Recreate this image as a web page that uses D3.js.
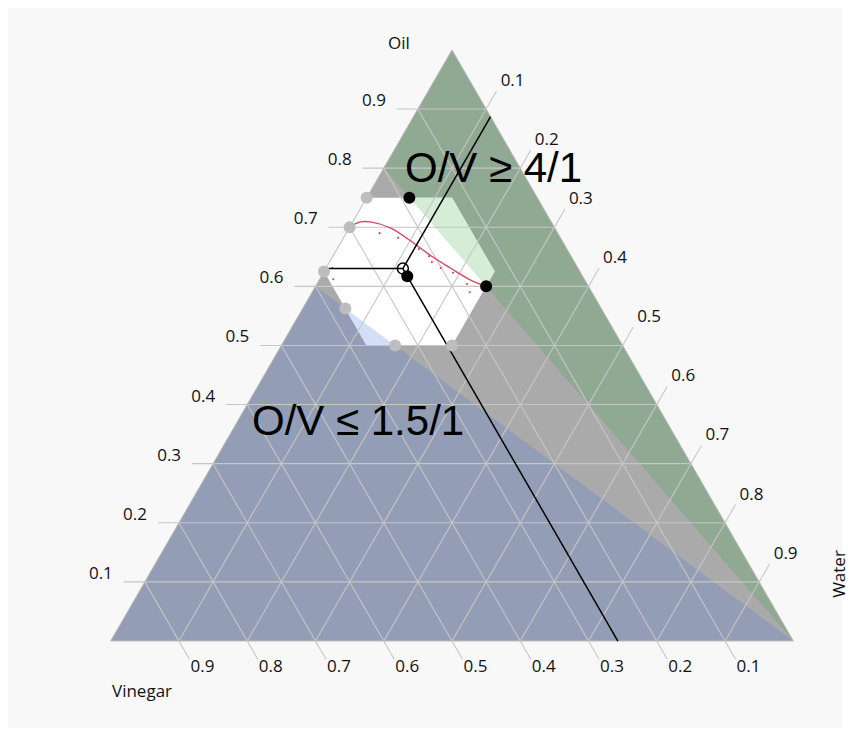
<!DOCTYPE html>
<html>
<head>
<meta charset="utf-8">
<script src="https://cdn.jsdelivr.net/npm/d3@7"></script>
<style>
  html, body { margin: 0; padding: 0; background: #ffffff; }
  svg { display: block; }
  text { font-family: "Open Sans", "Noto Sans", sans-serif; fill: #111; }
  text.big { font-family: "Liberation Sans", Arial, sans-serif; fill: #000; }
</style>
</head>
<body>
<svg id="chart" width="850" height="736"></svg>
<script>
// ---- data (compositions as [oil, water, vinegar]) ----
const ticks = [0.1, 0.2, 0.3, 0.4, 0.5, 0.6, 0.7, 0.8, 0.9];
const tickLabels = ["0.1", "0.2", "0.3", "0.4", "0.5", "0.6", "0.7", "0.8", "0.9"];
const axisTitles = ["Oil", "Water", "Vinegar"];

// oil / vinegar ratio limits
const ratioHigh = 4;     // O/V >= 4/1
const ratioLow = 1.5;    // O/V <= 1.5/1
const ratioTexts = ["O/V \u2265 4/1", "O/V \u2264 1.5/1"];

// component bounds of the mixing region
const oilRange = [0.5, 0.75];
const waterRange = [0, 0.25];
const vinegarRange = [0.125, 0.375];

// marked compositions
const grayPoints = [
  [0.75, 0.0, 0.25],
  [0.70, 0.0, 0.30],
  [0.625, 0.0, 0.375],
  [0.5625, 0.0625, 0.375],
  [0.50, 0.1667, 0.3333],
  [0.50, 0.25, 0.25]
];
const blackPoints = [
  [0.75, 0.0625, 0.1875],
  [0.60, 0.25, 0.15],
  [0.617, 0.126, 0.257]
];
const openPoint = [0.63, 0.113, 0.257];

// fitted curve and scattered observations
const curvePoints = [
  [0.700, 0.000], [0.709, 0.011], [0.709, 0.026], [0.699, 0.060],
  [0.678, 0.099], [0.653, 0.141], [0.631, 0.182], [0.611, 0.221], [0.600, 0.250]
];
const scatterPoints = [
  [0.631, 0.009], [0.612, 0.020], [0.690, 0.049], [0.682, 0.080],
  [0.663, 0.120], [0.651, 0.141], [0.641, 0.150], [0.631, 0.168],
  [0.623, 0.190], [0.604, 0.220], [0.590, 0.231]
];

// ---- layout ----
const svg = d3.select("#chart");
svg.append("rect").attr("x", 8).attr("y", 8).attr("width", 834).attr("height", 720)
  .attr("fill", "#f8f8f8");

const xs = d3.scaleLinear().domain([0, 1]).range([110.7, 793.3]);
const ys = d3.scaleLinear().domain([0, 1]).range([641, 49.9]);
// composition -> screen point
function P(o, w) { return [xs(w + o / 2), ys(o)]; }
function PT(t) { return P(t[0], t[1]); }
const poly = pts => "M" + pts.map(p => p.join(",")).join("L") + "Z";

const tri = [P(1, 0), P(0, 1), P(0, 0)];

// ---- regions ----
svg.append("path").attr("d", poly(tri)).attr("fill", "#aaaaaa");

// O/V >= ratioHigh : bounded by line from water corner to left edge
const vHigh = 1 / (1 + ratioHigh), oHigh = 1 - vHigh;
const greenPoly = [P(1, 0), P(0, 1), P(oHigh, 0)];
const vLow = 1 / (1 + ratioLow), oLow = 1 - vLow;
const bluePoly = [P(0, 0), P(0, 1), P(oLow, 0)];

svg.append("path").attr("d", poly(greenPoly)).attr("fill", "#8fa993");
svg.append("path").attr("d", poly(bluePoly)).attr("fill", "#939db5");

// mixing region (hexagon from component bounds)
const hex = [
  [oilRange[1], waterRange[0]],
  [oilRange[1], 1 - oilRange[1] - vinegarRange[0]],
  [1 - waterRange[1] - vinegarRange[0], waterRange[1]],
  [oilRange[0], waterRange[1]],
  [oilRange[0], 1 - oilRange[0] - vinegarRange[1]],
  [1 - waterRange[0] - vinegarRange[1], waterRange[0]]
].map(d => P(d[0], d[1]));

svg.append("clipPath").attr("id", "hexclip")
  .append("path").attr("d", poly(hex));
svg.append("path").attr("d", poly(hex)).attr("fill", "#ffffff");
const inner = svg.append("g").attr("clip-path", "url(#hexclip)");
inner.append("path").attr("d", poly(greenPoly)).attr("fill", "#d5ecd6");
inner.append("path").attr("d", poly(bluePoly)).attr("fill", "#d3dff7");

// ---- grid and ticks ----
const grid = svg.append("g").attr("stroke", "#c6c6c6").attr("stroke-width", 1.1).attr("fill", "none");
const TL = 21;
const up = [0.5, -Math.sqrt(3) / 2], down = [0.5, Math.sqrt(3) / 2];
const labels = svg.append("g").attr("font-size", 17);

ticks.forEach((t, i) => {
  // constant oil (horizontal)
  const a = P(t, 0), b = P(t, 1 - t);
  grid.append("line").attr("x1", a[0] - TL).attr("y1", a[1]).attr("x2", b[0]).attr("y2", b[1]);
  labels.append("text").attr("x", a[0] - TL - 11).attr("y", a[1] - 3)
    .attr("text-anchor", "end").text(tickLabels[i]);

  // constant water
  const c = P(0, t), d = P(1 - t, t);
  const de = [d[0] + TL * up[0], d[1] + TL * up[1]];
  grid.append("line").attr("x1", c[0]).attr("y1", c[1]).attr("x2", de[0]).attr("y2", de[1]);
  labels.append("text").attr("x", de[0] + 4).attr("y", de[1] - 5).text(tickLabels[i]);

  // constant vinegar
  const e = P(1 - t, 0), f = P(0, 1 - t);
  const fe = [f[0] + TL * down[0], f[1] + TL * down[1]];
  grid.append("line").attr("x1", e[0]).attr("y1", e[1]).attr("x2", fe[0]).attr("y2", fe[1]);
  labels.append("text").attr("x", fe[0] + 1).attr("y", fe[1] + 13).text(tickLabels[i]);
});

svg.append("path").attr("d", poly(tri)).attr("fill", "none")
  .attr("stroke", "#bbbbbb").attr("stroke-width", 1);

// ---- axis titles ----
svg.append("text").attr("x", 388).attr("y", 49).attr("font-size", 17).text(axisTitles[0]);
svg.append("text").attr("transform", "translate(845,574) rotate(-90)")
  .attr("text-anchor", "middle").attr("font-size", 17).text(axisTitles[1]);
svg.append("text").attr("x", 112).attr("y", 697).attr("font-size", 17).text(axisTitles[2]);

// ---- fitted curve and observations ----
svg.append("path")
  .attr("d", d3.line().x(d => P(d[0], d[1])[0]).y(d => P(d[0], d[1])[1])
    .curve(d3.curveCatmullRom)(curvePoints))
  .attr("fill", "none").attr("stroke", "#e0425c").attr("stroke-width", 1.4);
svg.append("g").selectAll("circle").data(scatterPoints).join("circle")
  .attr("cx", d => P(d[0], d[1])[0]).attr("cy", d => P(d[0], d[1])[1])
  .attr("r", 1.1).attr("fill", "#e0425c");

// ---- read-off lines from the marked composition ----
const [po, pw, pv] = openPoint;
const lines = svg.append("g").attr("stroke", "#000").attr("stroke-width", 1.5).attr("fill", "none");
const pc = P(po, pw);
[P(po, 0), P(1 - pw, pw), P(0, 1 - pv)].forEach(q => {
  lines.append("line").attr("x1", pc[0]).attr("y1", pc[1]).attr("x2", q[0]).attr("y2", q[1]);
});

// ---- points ----
svg.append("g").selectAll("circle").data(grayPoints).join("circle")
  .attr("cx", d => PT(d)[0]).attr("cy", d => PT(d)[1]).attr("r", 6).attr("fill", "#bdbdbd");
svg.append("circle").attr("cx", pc[0]).attr("cy", pc[1]).attr("r", 5.5)
  .attr("fill", "none").attr("stroke", "#000").attr("stroke-width", 1.5);
svg.append("g").selectAll("circle").data(blackPoints).join("circle")
  .attr("cx", d => PT(d)[0]).attr("cy", d => PT(d)[1]).attr("r", 6).attr("fill", "#000");

// ---- region labels ----
const big = svg.append("g").attr("font-size", 42);
big.append("text").attr("class", "big").attr("x", 405).attr("y", 182).text(ratioTexts[0]);
big.append("text").attr("class", "big").attr("x", 252).attr("y", 435).text(ratioTexts[1]);
</script>
</body>
</html>
